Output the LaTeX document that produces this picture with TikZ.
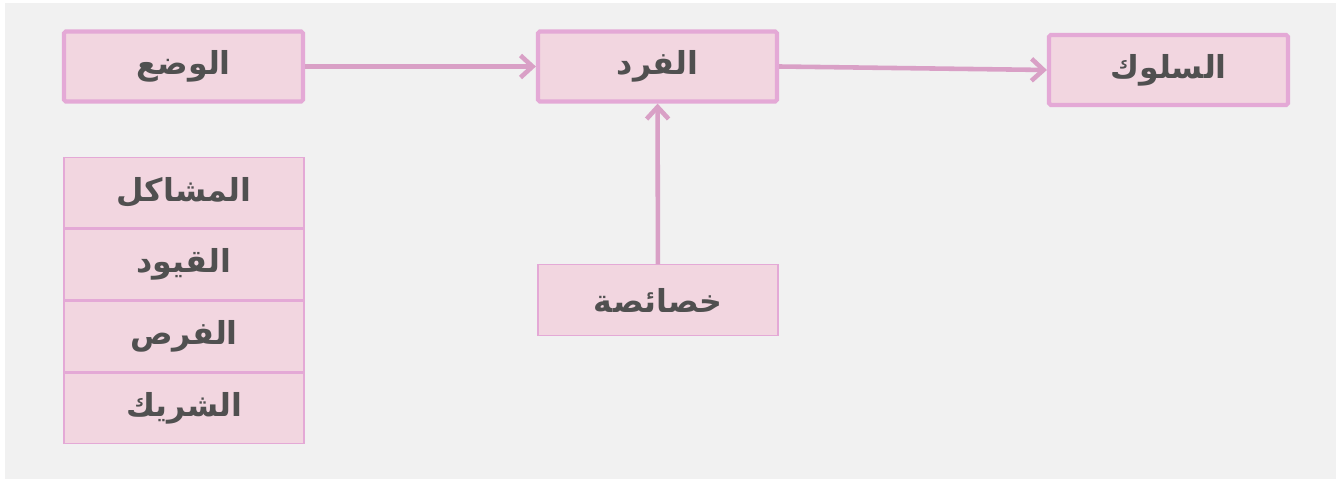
\documentclass[tikz,border=0pt]{standalone}
\usepackage{fontspec}
\usepackage{xcolor}
\usetikzlibrary{positioning,arrows.meta}
\TeXXeTstate=1
\newfontfamily\arabicfont[Script=Arabic]{DejaVu Sans}
\definecolor{bgGray}{HTML}{F1F1F1}
\definecolor{boxFill}{HTML}{F2D6E0}
\definecolor{boxLine}{HTML}{E4A9D6}
\definecolor{textGray}{HTML}{505050}
\definecolor{arrowPink}{HTML}{D9A0C6}
\newcommand{\ar}[1]{{\arabicfont\bfseries\beginR #1\endR}}
\tikzset{
  mainBox/.style={
    rectangle,
    rounded corners=1pt,
    draw=boxLine,
    line width=2.4pt,
    fill=boxFill,
    text=textGray,
    minimum width=4.78cm,
    minimum height=1.4cm,
    font=\fontsize{18}{21}\selectfont,
    align=center
  },
  listBox/.style={
    rectangle,
    draw=boxLine,
    line width=0.8pt,
    fill=boxFill,
    text=textGray,
    minimum width=4.8cm,
    minimum height=1.41cm,
    font=\fontsize{18}{21}\selectfont,
    align=center
  },
  arrowLine/.style={
    -{Straight Barb[length=2.4mm,width=4.4mm]},
    draw=arrowPink,
    line width=2.6pt
  }
}
\begin{document}
\begin{tikzpicture}
        \useasboundingbox (0,0) rectangle (26.72,9.58);
        \fill[white] (0,0) rectangle (26.72,9.58);
        \fill[bgGray] (0.1,0) rectangle (26.72,9.52);

        \node[mainBox] (situation) at (3.67,8.25) {\ar{الوضع}};
        \node[mainBox] (person) at (13.15,8.25) {\ar{الفرد}};
        \node[mainBox] (behaviour) at (23.37,8.18) {\ar{السلوك}};

        \node[listBox] (problems) at (3.68,5.73) {\ar{المشاكل}};
        \node[listBox, below=0pt of problems] (limits) {\ar{القيود}};
        \node[listBox, below=0pt of limits] (chances) {\ar{الفرص}};
        \node[listBox, below=0pt of chances] (partner) {\ar{الشريك}};

        \node[listBox] (traits) at (13.16,3.58) {\ar{خصائصة}};

        \draw[arrowLine] (situation) -- (person);
        \draw[arrowLine] (person.east) -- (behaviour.west);
        \draw[arrowLine] (traits) -- (person);
    \end{tikzpicture}
\end{document}
